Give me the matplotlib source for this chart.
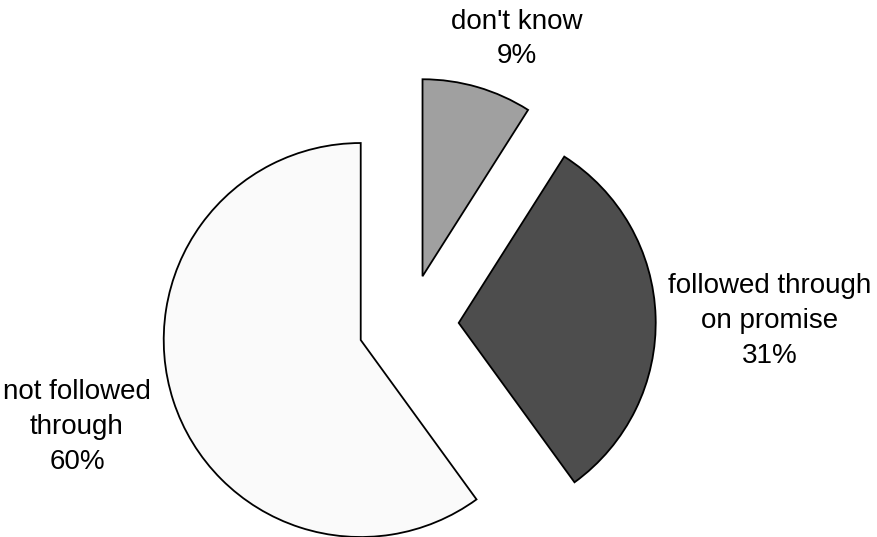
import matplotlib
matplotlib.use("Agg")
import matplotlib.pyplot as plt
import numpy as np

labels = ["don't know", "followed through\non promise", "not followed\nthrough"]
values = [9, 31, 60]
colors = ["#A0A0A0", "#4D4D4D", "#FAFAFA"]

W, H = 878, 537
fig = plt.figure(figsize=(W / 100, H / 100), dpi=100)
ax = fig.add_axes([0, 0, 1, 1])

R = 197
cx, cy = 408.5, H - 324.5
# matplotlib's explode offset is in data units, so scale by radius
explode = [0.255 * R] * 3

ax.pie(values, colors=colors, startangle=90, counterclock=False,
       explode=explode, radius=R, center=(cx, cy), frame=True,
       wedgeprops=dict(edgecolor="black", linewidth=1.3))
ax.set_xlim(0, W)
ax.set_ylim(0, H)
ax.set_aspect("equal")
ax.axis("off")

label_pos = [(517, H - 39), (770, H - 321), (77, H - 427)]
for lab, v, (x, y) in zip(labels, values, label_pos):
    ax.text(x, y, f"{lab}\n{v}%", ha="center", va="center",
            fontsize=20, family="Liberation Sans", linespacing=1.43,
            color="black")

fig.savefig("out.png", dpi=100)
